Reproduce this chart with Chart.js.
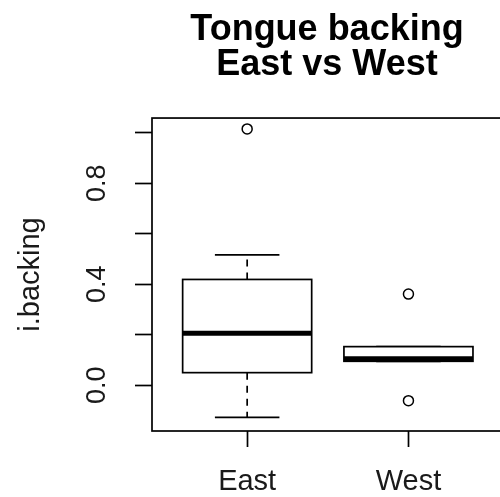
<!DOCTYPE html>
<html><head><meta charset="utf-8">
<script src="https://cdn.jsdelivr.net/npm/chart.js@4.4.1/dist/chart.umd.min.js"></script>
<style>html,body{margin:0;padding:0;background:#fff;overflow:hidden}canvas{display:block}</style>
</head><body>
<canvas id="c" width="503" height="497" style="width:503px;height:497px"></canvas>
<script>
const groups = ['East', 'West'];
const whiskerLow = [-0.127, 0.095];
const q1 = [0.050, 0.095];
const medians = [0.206, 0.105];
const q3 = [0.419, 0.153];
const whiskerHigh = [0.516, 0.153];
const outlierGroup = [0, 1, 1];
const outlierValue = [1.015, 0.361, -0.061];
const yTickValues = [0, 0.4, 0.8];
const yTickLabels = ['0.0', '0.4', '0.8'];
const titleLines = ['Tongue backing', 'East vs West'];
const yTitle = 'i.backing';

const FONT = "'Liberation Sans', Arial, sans-serif";

const boxPlugin = {
  id: 'rbox',
  beforeDatasetsDraw(chart) {
    const {ctx, chartArea: a, scales: {x, y}} = chart;
    const py = v => y.getPixelForValue(v);
    const line = (x1, y1, x2, y2) => { ctx.beginPath(); ctx.moveTo(x1, y1); ctx.lineTo(x2, y2); ctx.stroke(); };
    ctx.save();
    ctx.strokeStyle = '#000';
    groups.forEach((g, i) => {
      const cx = x.getPixelForValue(i + 1);
      const hw = x.getPixelForValue(i + 1.4) - cx;
      const cw = hw / 2;
      ctx.lineWidth = 1.7;
      ctx.setLineDash([7, 6]);
      if (whiskerHigh[i] > q3[i]) line(cx, py(q3[i]), cx, py(whiskerHigh[i]));
      if (whiskerLow[i] < q1[i]) line(cx, py(q1[i]), cx, py(whiskerLow[i]));
      ctx.setLineDash([]);
      line(cx - cw, py(whiskerHigh[i]), cx + cw, py(whiskerHigh[i]));
      line(cx - cw, py(whiskerLow[i]), cx + cw, py(whiskerLow[i]));
      ctx.fillStyle = '#fff';
      const top = py(q3[i]), bot = py(q1[i]);
      ctx.fillRect(cx - hw, top, 2 * hw, bot - top);
      ctx.strokeRect(cx - hw, top, 2 * hw, bot - top);
      ctx.lineWidth = 5;
      ctx.lineCap = 'butt';
      line(cx - hw, py(medians[i]), cx + hw, py(medians[i]));
    });
    ctx.lineWidth = 1.7;
    ctx.strokeRect(a.left, a.top, a.right - a.left, a.bottom - a.top);
    ctx.fillStyle = '#1a1a1a';
    ctx.font = '27px ' + FONT;
    ctx.textAlign = 'center';
    ctx.textBaseline = 'middle';
    yTickValues.forEach((v, k) => {
      ctx.save();
      ctx.translate(a.left - 54, py(v));
      ctx.rotate(-Math.PI / 2);
      ctx.fillText(yTickLabels[k], 0, 0);
      ctx.restore();
    });
    ctx.restore();
  }
};

new Chart(document.getElementById('c'), {
  type: 'scatter',
  data: {
    datasets: [{
      data: outlierValue.map((v, k) => ({x: outlierGroup[k] + 1, y: v})),
      pointRadius: 5,
      pointHoverRadius: 5,
      pointBackgroundColor: '#fff',
      pointBorderColor: '#000',
      pointBorderWidth: 1.5
    }]
  },
  options: {
    responsive: false,
    animation: false,
    events: [],
    layout: {autoPadding: false, padding: {left: 0, right: 1, top: 0, bottom: 0}},
    plugins: {
      legend: {display: false},
      tooltip: {enabled: false},
      title: {
        display: true,
        fullSize: false,
        text: titleLines,
        color: '#000',
        font: {family: FONT, size: 36, weight: 'bold', lineHeight: 0.97},
        padding: {top: 13, bottom: 35.2}
      }
    },
    scales: {
      x: {
        type: 'linear',
        min: 0.41,
        max: 2.58,
        afterFit: s => { s.height = 66; },
        afterBuildTicks: s => { s.ticks = groups.map((g, i) => ({value: i + 1})); },
        border: {display: false},
        grid: {drawOnChartArea: false, drawTicks: true, tickLength: 16, tickColor: '#000', tickWidth: 1.7},
        ticks: {
          autoSkip: false,
          maxRotation: 0,
          padding: 18,
          color: '#1a1a1a',
          font: {family: FONT, size: 29},
          callback: v => groups[v - 1] || ''
        }
      },
      y: {
        min: -0.181,
        max: 1.058,
        afterFit: s => { s.width = 152; },
        border: {display: false},
        grid: {drawOnChartArea: false, drawTicks: true, tickLength: 17, tickColor: '#000', tickWidth: 1.7},
        ticks: {stepSize: 0.2, includeBounds: false, callback: () => ''},
        title: {
          display: true,
          text: yTitle,
          color: '#1a1a1a',
          font: {family: FONT, size: 29},
          padding: {top: 14, bottom: 0}
        }
      }
    }
  },
  plugins: [boxPlugin]
});
</script>
</body></html>
